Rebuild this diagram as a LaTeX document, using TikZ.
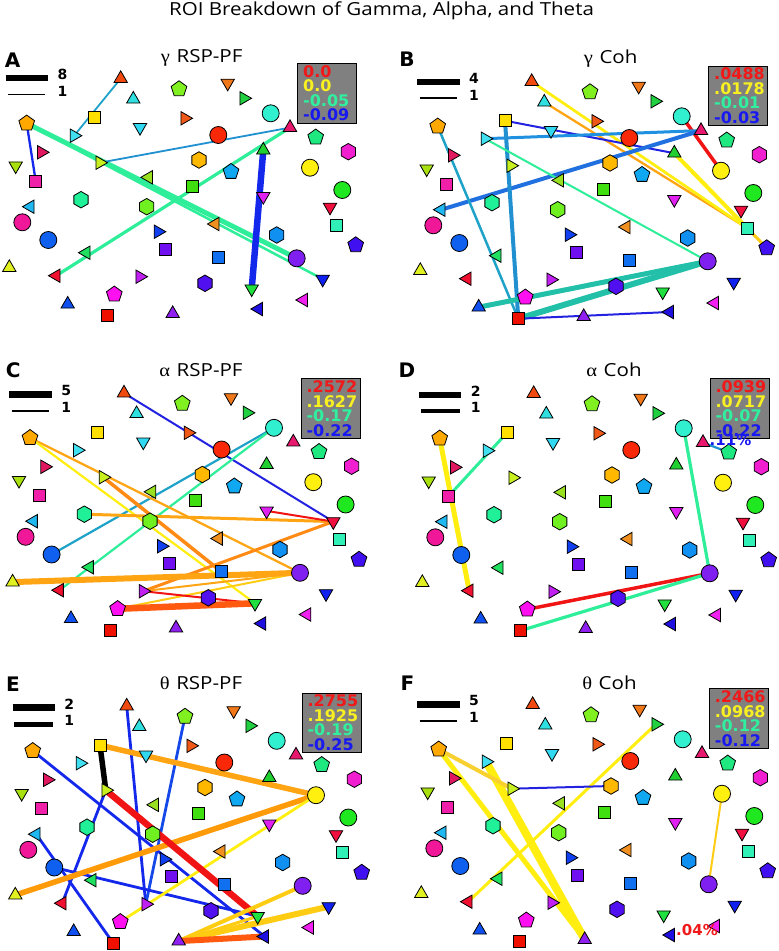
\documentclass[tikz,border=0pt]{standalone}
\usepackage{fontspec}
\setmainfont{DejaVu Sans}
\newfontfamily\ttlfont{Open Sans}
\newfontfamily\grkfont{Liberation Serif}
\usetikzlibrary{shapes.geometric,backgrounds}
\pgfdeclarelayer{edges}
\pgfsetlayers{background,edges,main}

\definecolor{c1}{HTML}{F04A10}\definecolor{c2}{HTML}{30E0E0}\definecolor{c3}{HTML}{80F020}
\definecolor{c4}{HTML}{F07818}\definecolor{c5}{HTML}{20D040}\definecolor{c6}{HTML}{30F0D0}
\definecolor{c7}{HTML}{E8186E}\definecolor{c8}{HTML}{FFE000}\definecolor{c9}{HTML}{F05818}
\definecolor{c10}{HTML}{30D8F0}\definecolor{c11}{HTML}{40E0F0}\definecolor{c12}{HTML}{FFA800}
\definecolor{c13}{HTML}{F82808}\definecolor{c14}{HTML}{20E880}\definecolor{c15}{HTML}{F020D0}
\definecolor{c16}{HTML}{E01860}\definecolor{c17}{HTML}{20D030}\definecolor{c18}{HTML}{A8E010}
\definecolor{c19}{HTML}{C8F020}\definecolor{c20}{HTML}{FFB800}\definecolor{c21}{HTML}{10A8F0}
\definecolor{c22}{HTML}{FFF010}\definecolor{c23}{HTML}{F020A8}\definecolor{c24}{HTML}{98E020}
\definecolor{c25}{HTML}{40E010}\definecolor{c26}{HTML}{20E820}\definecolor{c27}{HTML}{20F098}
\definecolor{c28}{HTML}{70F020}\definecolor{c29}{HTML}{E020F0}\definecolor{c30}{HTML}{F01040}
\definecolor{c31}{HTML}{20B8F0}\definecolor{c32}{HTML}{F01898}\definecolor{c33}{HTML}{F09020}
\definecolor{c34}{HTML}{30F0B8}\definecolor{c35}{HTML}{1040F0}\definecolor{c36}{HTML}{1060F0}
\definecolor{c37}{HTML}{1090F0}\definecolor{c38}{HTML}{4010F0}\definecolor{c39}{HTML}{7010F0}
\definecolor{c40}{HTML}{20E060}\definecolor{c41}{HTML}{1070F0}\definecolor{c42}{HTML}{8020F0}
\definecolor{c43}{HTML}{E0F020}\definecolor{c44}{HTML}{F01030}\definecolor{c45}{HTML}{C020F0}
\definecolor{c46}{HTML}{5010F0}\definecolor{c47}{HTML}{1020F0}\definecolor{c48}{HTML}{20E040}
\definecolor{c49}{HTML}{1050F0}\definecolor{c50}{HTML}{FF10F0}\definecolor{c51}{HTML}{F020F0}
\definecolor{c52}{HTML}{9020F0}\definecolor{c53}{HTML}{2010E0}\definecolor{c54}{HTML}{F01000}

\definecolor{Lblue}{HTML}{1428EC}\definecolor{Lblue2}{HTML}{1448E8}
\definecolor{Ldblue}{HTML}{2222E0}\definecolor{Lteal}{HTML}{1FA2C8}
\definecolor{Lteal2}{HTML}{2090D0}\definecolor{Lsky}{HTML}{2090E0}
\definecolor{Lsky2}{HTML}{2070E0}\definecolor{Lgreen}{HTML}{2EEE9A}
\definecolor{Laqua}{HTML}{22C0A8}\definecolor{Lyellow}{HTML}{FFEE10}
\definecolor{Lgold}{HTML}{FFCC14}\definecolor{Lgold2}{HTML}{F8D030}
\definecolor{Lorange}{HTML}{FFA514}\definecolor{Ldorange}{HTML}{FF8A14}
\definecolor{Ldorange2}{HTML}{FF9A08}\definecolor{Lred}{HTML}{F01414}
\definecolor{Lredor}{HTML}{FF5A10}
\definecolor{tred}{HTML}{F01818}\definecolor{tyel}{HTML}{F8F020}
\definecolor{tgrn}{HTML}{30F0A0}\definecolor{tblu}{HTML}{1818F0}
\definecolor{boxgray}{HTML}{808080}

\tikzset{
  mk/.style={draw=black,line width=0.8pt,inner sep=0pt,outer sep=0pt},
  mkc/.style={mk,circle,minimum size=17pt},
  mks/.style={mk,rectangle,minimum size=12pt},
  mkp/.style={mk,regular polygon,regular polygon sides=5,minimum size=16.5pt},
  mkh/.style={mk,regular polygon,regular polygon sides=6,minimum size=16.5pt,shape border rotate=30},
  mkt/.style={mk,regular polygon,regular polygon sides=3,minimum size=15.5pt},
  mku/.style={mkt,yshift=-1.9pt},
  mkd/.style={mkt,shape border rotate=180,yshift=1.9pt},
  mkl/.style={mkt,shape border rotate=90,xshift=1.9pt},
  mkr/.style={mkt,shape border rotate=-90,xshift=-1.9pt},
  valbox/.style={draw=black,line width=0.8pt,fill=boxgray,anchor=north west,
    minimum width=59pt,minimum height=59.5pt,text width=48pt,inner xsep=5.5pt,
    inner ysep=0pt,align=left,font=\bfseries\fontsize{16}{14.5}\selectfont},
  plet/.style={inner sep=0pt,font=\bfseries\fontsize{20}{20}\selectfont},
  lnum/.style={inner sep=0pt,font=\bfseries\fontsize{14}{14}\selectfont},
  ptitle/.style={inner sep=0pt,font=\fontsize{18}{18}\selectfont},
  legbar/.style={line width=#1pt,draw=black},
  pct/.style={inner sep=0pt,font=\bfseries\fontsize{15}{15}\selectfont},
}

\newcommand\drawmarkers[3]{%
  \begin{scope}[shift={(#2,#3)}]
  \foreach \n/\px/\py/\s in {
    1/120.7/76.7/mku, 2/133.3/97.3/mku, 3/179/89/mkp, 4/227.7/85/mkd,
    5/245.7/98.3/mkr, 6/270.7/113.3/mkc, 7/290/125.7/mku, 8/94/117.7/mks,
    9/186.7/118.3/mkr, 10/140/129.3/mkd, 11/76/135.7/mkr, 12/26.7/123.3/mkp,
    13/218.3/135/mkc, 14/315.7/137.3/mkp, 15/348.3/151.7/mkh, 16/43.3/152.3/mkr,
    17/263.3/148.3/mku, 18/15.7/167.7/mkd, 19/101.7/162.7/mkr, 20/199/160/mkh,
    21/231/171.7/mkp, 22/310/167.7/mkc, 23/35.7/181/mks, 24/146.7/177.3/mkl,
    25/192.3/186/mks, 26/342.3/190/mkc, 27/81/199.7/mkh, 28/146.7/206.7/mkh,
    29/263.3/198.3/mkd, 30/330/209/mkd, 31/28.3/206.7/mkl, 32/22.3/222.3/mkc,
    33/213.3/224/mkl, 34/336/225/mks, 35/160/231.7/mkr, 36/48.3/240/mkc,
    37/276.7/235/mkh, 38/355.7/245/mkp, 39/165.7/249.3/mks, 40/84.3/252.7/mkl,
    41/218.3/257.3/mks, 42/296.7/258.3/mkc, 43/9.3/265.7/mku, 44/54.3/275.7/mkl,
    45/141.7/276.7/mkr, 46/205/283.3/mkh, 47/322.7/281/mkd, 48/251.7/290.7/mkd,
    49/67.7/302.3/mku, 50/114.3/294.3/mkp, 51/301.7/300/mkl, 52/172.7/311.7/mku,
    53/256.7/309/mkl, 54/107.3/315.7/mks}
  {\node[\s,fill=c\n] (#1-\n) at (\px,\py) {};}
  \end{scope}}

\newcommand\ttl[2]{\scalebox{1.14}[1]{{\grkfont #1} {\ttlfont #2}}}

\begin{document}
\begin{tikzpicture}[x=1pt,y=-1pt]
\begin{pgfonlayer}{background}
\fill[white] (0,0) rectangle (779,951);
\end{pgfonlayer}
\useasboundingbox (0,0) rectangle (779,951);

\node[inner sep=0pt] (title) at (381.5,10.5)
  {\ttlfont\fontsize{18}{18}\selectfont\scalebox{1.14}[1]{ROI Breakdown of Gamma, Alpha, and Theta}};

% markers
\drawmarkers{A}{0}{0}
\drawmarkers{B}{411}{3}
\drawmarkers{C}{3.3}{314.5}
\drawmarkers{D}{413}{315}
\drawmarkers{E}{6}{627.5}
\drawmarkers{F}{412}{626}

% panel letters and titles
\node[plet] (A-let) at (12.7,60) {A};
\node[plet] (B-let) at (407,59.5) {B};
\node[plet] (C-let) at (13.3,370) {C};
\node[plet] (D-let) at (407,370) {D};
\node[plet] (E-let) at (13,684) {E};
\node[plet] (F-let) at (407.5,683.7) {F};
\node[ptitle] (A-ttl) at (201.7,58) {\ttl{γ}{RSP-PF}};
\node[ptitle] (B-ttl) at (610.7,59) {\ttl{γ}{Coh}};
\node[ptitle] (C-ttl) at (201,370) {\ttl{α}{RSP-PF}};
\node[ptitle] (D-ttl) at (614,370) {\ttl{α}{Coh}};
\node[ptitle] (E-ttl) at (201,683) {\ttl{θ}{RSP-PF}};
\node[ptitle] (F-ttl) at (609.5,683) {\ttl{θ}{Coh}};

% legends
\draw[legbar=6.5] (5.7,78) -- (48.3,78);   \draw[legbar=1.5] (8.3,94.5) -- (45,94.5);
\node[lnum] (A-l1) at (62.5,74.3) {8};     \node[lnum] (A-l2) at (62.5,91.3) {1};
\draw[legbar=6.5] (417.3,81.8) -- (460,81.8); \draw[legbar=2] (419.7,98) -- (457.3,98);
\node[lnum] (B-l1) at (474,78) {4};        \node[lnum] (B-l2) at (474,95.5) {1};
\draw[legbar=6.5] (9.3,394.3) -- (51.7,394.3); \draw[legbar=2] (11.7,410.8) -- (49.3,410.8);
\node[lnum] (C-l1) at (66.3,390.8) {5};    \node[lnum] (C-l2) at (66.3,407) {1};
\draw[legbar=6.5] (419,395) -- (461.3,395); \draw[legbar=4.5] (420.7,410.8) -- (459.7,410.8);
\node[lnum] (D-l1) at (475.7,391.5) {2};   \node[lnum] (D-l2) at (475.7,407.8) {1};
\draw[legbar=6.5] (12.7,707.7) -- (55,707.7); \draw[legbar=4.3] (14,724.5) -- (52.7,724.5);
\node[lnum] (E-l1) at (69.3,704) {2};      \node[lnum] (E-l2) at (69.3,720) {1};
\draw[legbar=6.5] (417.3,704.3) -- (460,704.3); \draw[legbar=2] (419.7,721.2) -- (457.3,721.2);
\node[lnum] (F-l1) at (474,700) {5};       \node[lnum] (F-l2) at (474,717) {1};

% value boxes
\node[valbox] (A-box) at (297.3,63) {\textcolor{tred}{0.0}\\\textcolor{tyel}{0.0}\\\textcolor{tgrn}{-0.05}\\\textcolor{tblu}{-0.09}};
\node[valbox] (B-box) at (708.3,65.7) {\textcolor{tred}{.0488}\\\textcolor{tyel}{.0178}\\\textcolor{tgrn}{-0.01}\\\textcolor{tblu}{-0.03}};
\node[valbox] (C-box) at (300.7,378.3) {\textcolor{tred}{.2572}\\\textcolor{tyel}{.1627}\\\textcolor{tgrn}{-0.17}\\\textcolor{tblu}{-0.22}};
\node[valbox] (D-box) at (709.7,378.3) {\textcolor{tred}{.0939}\\\textcolor{tyel}{.0717}\\\textcolor{tgrn}{-0.07}\\\textcolor{tblu}{-0.22}};
\node[valbox] (E-box) at (301.7,692.7) {\textcolor{tred}{.2755}\\\textcolor{tyel}{.1925}\\\textcolor{tgrn}{-0.19}\\\textcolor{tblu}{-0.25}};
\node[valbox] (F-box) at (709,688.3) {\textcolor{tred}{.2466}\\\textcolor{tyel}{.0968}\\\textcolor{tgrn}{-0.12}\\\textcolor{tblu}{-0.12}};

\node[pct,text=tblu] (D-pct) at (730.5,440.5) {.11\%};
\node[pct,text=tred] (F-pct) at (697,930) {.04\%};

% connectors
\begin{pgfonlayer}{edges}
\foreach \a/\b/\c/\w in {1/11/Lteal/1.8, 12/23/Lblue/2.3, 12/47/Lgreen/2.5, 12/42/Lgreen/5,
  44/7/Lgreen/3.2, 19/7/Lteal2/1.8, 17/48/Lblue/6.5}
  {\draw[line width=\w pt,draw=\c] (A-\a.center) -- (A-\b.center);}
\foreach \a/\b/\c/\w in {2/34/Lorange/2.3, 1/34/Lyellow/2.8, 17/38/Lgold/3, 17/34/Lyellow/4,
  6/22/Lred/3.5, 8/17/Ldblue/2, 11/7/Lsky/3, 31/7/Lsky2/4, 12/54/Lteal/2.5, 8/54/Lteal2/4,
  11/42/Lgreen/2, 42/49/Laqua/5, 42/54/Laqua/6, 54/53/Ldblue/2}
  {\draw[line width=\w pt,draw=\c] (B-\a.center) -- (B-\b.center);}
\foreach \a/\b/\c/\w in {1/30/Ldblue/2, 6/36/Lteal/2.2, 6/44/Lgreen/2.2, 12/42/Lorange/2.2,
  12/48/Lyellow/2.2, 19/41/Ldorange/3.5, 27/30/Lorange/3, 29/30/Lred/2, 30/45/Ldorange/3,
  45/42/Lorange/2, 50/42/Lgold/2, 43/42/Lorange/6, 45/48/Lred/2, 50/48/Lredor/6.5}
  {\draw[line width=\w pt,draw=\c] (C-\a.center) -- (C-\b.center);}
\foreach \a/\b/\c/\w in {12/44/Lyellow/5, 23/8/Lgreen/3, 6/42/Lgreen/3.2, 42/50/Lred/3.5,
  42/54/Lgreen/3.2, 7/14/Lteal2/2.2}
  {\draw[line width=\w pt,draw=\c] (D-\a.center) -- (D-\b.center);}
\foreach \a/\b/\c/\w in {1/45/Lblue/2.8, 3/45/Lblue2/2.8, 12/53/Lblue/2.8, 19/44/Lblue/2.8,
  31/54/Lblue/2.8, 36/48/Lblue/2.8, 8/22/Lorange/5.5, 43/22/Ldorange2/5.5, 50/22/Lyellow/2.8,
  8/19/black/5.5, 19/48/Lred/6.5, 52/42/Lgold/4, 52/47/Lgold/6, 52/48/Lgold/3, 52/53/Lredor/6}
  {\draw[line width=\w pt,draw=\c] (E-\a.center) -- (E-\b.center);}
\foreach \a/\b/\c/\w in {12/52/Lyellow/5, 11/52/Lyellow/8, 12/19/Lgold2/4, 5/44/Lyellow/3,
  19/20/Ldblue/2, 22/42/Lgold/2}
  {\draw[line width=\w pt,draw=\c] (F-\a.center) -- (F-\b.center);}
\end{pgfonlayer}
\end{tikzpicture}
\end{document}
